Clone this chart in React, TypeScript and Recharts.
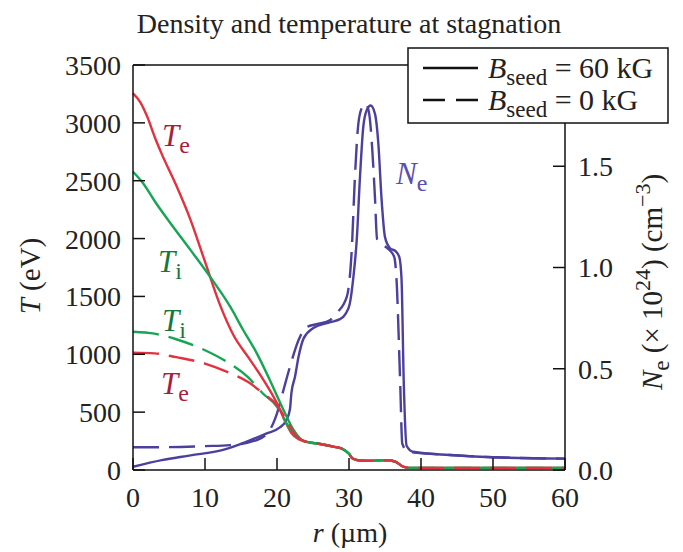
import React from "react";
import { LineChart, Line, XAxis, YAxis } from "recharts";

// radius (µm) grids and values
const R_TAIL = [24, 26, 28, 29, 30, 30.5, 31.5, 33, 34.5, 35.5, 36.5, 37.5, 38.5, 45, 60];
const T_TAIL = [245, 225, 200, 185, 140, 100, 82, 80, 84, 84, 70, 30, 18, 18, 18];

const R_TE_60 = [0, 1, 2, 3, 4, 6, 8, 10, 12, 14, 16, 18, 20, 21, 22, 23];
const TE_60 = [3255, 3180, 3050, 2880, 2730, 2460, 2160, 1800, 1440, 1160, 975, 790, 576, 440, 320, 265];

const R_TI_60 = [0, 1.5, 3, 5, 8, 10.7, 13.5, 15.3, 17.2, 19, 20.9, 22.3, 23.4];
const TI_60 = [2578, 2470, 2325, 2150, 1900, 1671, 1411, 1210, 1008, 778, 519, 346, 262];

const R_T_0 = [0, 3, 6, 10, 13, 16, 18, 20, 21.3, 22.7];
const TE_0 = [1014, 1008, 975, 920, 850, 760, 665, 560, 432, 290];
const TI_0 = [1195, 1178, 1130, 1035, 936, 800, 663, 547, 404, 288];

const R_NE_60 = [0, 4, 8, 12.5, 15.8, 18.5, 20.4, 21.3, 21.8, 22, 22.5, 23, 23.7, 25, 27.4, 28.75, 29.5, 30.1, 30.6, 31.1, 31.5, 32, 32.5, 33, 33.6, 34.1, 34.5, 35, 35.7, 36.5, 37, 37.3, 37.6, 38, 38.9, 44, 50, 60];
const NE_60 = [0.016, 0.049, 0.072, 0.099, 0.14, 0.18, 0.21, 0.247, 0.3, 0.38, 0.46, 0.56, 0.65, 0.7, 0.73, 0.745, 0.77, 0.82, 0.95, 1.15, 1.43, 1.7, 1.78, 1.8, 1.76, 1.6, 1.35, 1.15, 1.095, 1.08, 1.05, 0.94, 0.44, 0.12, 0.09, 0.074, 0.063, 0.056];

const R_NE_0 = [0, 5, 10, 13.5, 17.2, 19, 20, 20.9, 21.8, 23, 24.1, 25.5, 27.4, 28.3, 29.7, 30.4, 30.8, 31.3, 31.8, 32.3, 32.8, 33.2, 33.6, 33.9, 34.8, 35.8, 36.3, 36.6, 37.1, 37.4, 38.2, 44, 50, 60];
const NE_0 = [0.112, 0.113, 0.118, 0.123, 0.148, 0.198, 0.28, 0.395, 0.51, 0.642, 0.705, 0.72, 0.741, 0.775, 0.856, 1.1, 1.43, 1.71, 1.79, 1.81, 1.76, 1.6, 1.35, 1.14, 1.11, 1.08, 1.05, 0.94, 0.44, 0.13, 0.09, 0.074, 0.063, 0.056];

const R_TICKS = [0, 10, 20, 30, 40, 50, 60];
const T_TICKS = [0, 500, 1000, 1500, 2000, 2500, 3000, 3500];
const NE_TICKS = [0, 0.5, 1, 1.5];

const toRows = (rs: number[], vs: number[]) => rs.map((r, i) => ({ r, v: vs[i] }));

const RED = "#e2323f";
const GREEN = "#16a552";
const BLUE = "#4b409e";
const FONT = "'Liberation Serif', 'Times New Roman', serif";
const DASH = "26 10";

const tickStyle = { fontFamily: FONT, fontSize: 28, fill: "#222" };
const axisStroke = { stroke: "#111", strokeWidth: 1.5 };

function Sym({ x, y, main, sub, color }: { x: number; y: number; main: string; sub: string; color: string }) {
  return (
    <text x={x} y={y} fill={color} fontFamily={FONT} fontSize={31}>
      <tspan fontStyle="italic">{main}</tspan>
      <tspan fontSize={24} dy={7}>{sub}</tspan>
    </text>
  );
}

export default function App() {
  const common = { dot: false, isAnimationActive: false, type: "monotone" as const, dataKey: "v", strokeWidth: 2.4 };
  return (
    <div style={{ position: "absolute", left: 0, top: 0, width: 683, height: 552, background: "#fff" }}>
      <LineChart width={683} height={552} margin={{ top: 64, right: 117, bottom: 81, left: 132 }}>
        <XAxis xAxisId="b" type="number" dataKey="r" domain={[0, 60]} ticks={R_TICKS} interval={0}
          height={1} tickSize={-12} tickMargin={29} tick={tickStyle} axisLine={axisStroke} tickLine={axisStroke} />
        <XAxis xAxisId="t" orientation="top" type="number" dataKey="r" domain={[0, 60]} ticks={R_TICKS} interval={0}
          height={1} tickSize={-12} tick={false} axisLine={axisStroke} tickLine={axisStroke} />
        <YAxis yAxisId="T" domain={[0, 3500]} ticks={T_TICKS} interval={0} width={1}
          tickSize={-12} tickMargin={24} tick={tickStyle} axisLine={axisStroke} tickLine={axisStroke} />
        <YAxis yAxisId="N" orientation="right" domain={[0, 2]} ticks={NE_TICKS} interval={0} width={1}
          tickSize={-12} tickMargin={25} tick={tickStyle} tickFormatter={(v: number) => v.toFixed(1)}
          axisLine={axisStroke} tickLine={axisStroke} />

        <Line {...common} xAxisId="b" yAxisId="N" data={toRows(R_NE_0, NE_0)} stroke={BLUE} strokeDasharray={DASH} />
        <Line {...common} xAxisId="b" yAxisId="N" data={toRows(R_NE_60, NE_60)} stroke={BLUE} />
        <Line {...common} xAxisId="b" yAxisId="T" data={toRows([...R_TE_60, ...R_TAIL], [...TE_60, ...T_TAIL])} stroke={RED} />
        <Line {...common} xAxisId="b" yAxisId="T" data={toRows([...R_TI_60, ...R_TAIL], [...TI_60, ...T_TAIL])} stroke={GREEN} />
        <Line {...common} xAxisId="b" yAxisId="T" data={toRows([...R_T_0, ...R_TAIL], [...TI_0, ...T_TAIL])} stroke={GREEN} strokeDasharray={DASH} />
        <Line {...common} xAxisId="b" yAxisId="T" data={toRows([...R_T_0, ...R_TAIL], [...TE_0, ...T_TAIL])} stroke={RED} strokeDasharray={DASH} />
      </LineChart>

      <svg width={683} height={552} style={{ position: "absolute", left: 0, top: 0, pointerEvents: "none" }}>
        <text x={349} y={33} textAnchor="middle" fontFamily={FONT} fontSize={28} fill="#222">
          Density and temperature at stagnation
        </text>
        <text x={350} y={542} textAnchor="middle" fontFamily={FONT} fontSize={28} fill="#222">
          <tspan fontStyle="italic">r</tspan> (µm)
        </text>
        <text transform="translate(40,276) rotate(-90)" textAnchor="middle" fontFamily={FONT} fontSize={29} fill="#222">
          <tspan fontStyle="italic">T</tspan> (eV)
        </text>
        <text transform="translate(662,282) rotate(-90)" textAnchor="middle" fontFamily={FONT} fontSize={29} fill="#222">
          <tspan fontStyle="italic">N</tspan>
          <tspan fontSize={23} dy={7}>e</tspan>
          <tspan dy={-7}> (× 10</tspan>
          <tspan fontSize={22} dy={-12}>24</tspan>
          <tspan dy={12}>) (cm</tspan>
          <tspan fontSize={22} dy={-12}>−3</tspan>
          <tspan dy={12}>)</tspan>
        </text>

        <rect x={408} y={48} width={260} height={75} fill="#fff" stroke="#111" strokeWidth={1.5} />
        <line x1={423} x2={478} y1={68} y2={68} stroke="#111" strokeWidth={2.5} />
        <line x1={423} x2={478} y1={100} y2={100} stroke="#111" strokeWidth={2.5} strokeDasharray="22 11" />
        <text x={488} y={78} fontFamily={FONT} fontSize={30} fill="#222">
          <tspan fontStyle="italic">B</tspan>
          <tspan fontSize={23} dy={7}>seed</tspan>
          <tspan dy={-7}> = 60 kG</tspan>
        </text>
        <text x={488} y={110} fontFamily={FONT} fontSize={30} fill="#222">
          <tspan fontStyle="italic">B</tspan>
          <tspan fontSize={23} dy={7}>seed</tspan>
          <tspan dy={-7}> = 0 kG</tspan>
        </text>

        <Sym x={162} y={146} main="T" sub="e" color="#a61e3b" />
        <Sym x={158} y={272} main="T" sub="i" color="#15783c" />
        <Sym x={162} y={331} main="T" sub="i" color="#15783c" />
        <Sym x={161} y={394} main="T" sub="e" color="#a61e3b" />
        <Sym x={396} y={184} main="N" sub="e" color="#5a4fae" />
      </svg>
    </div>
  );
}
